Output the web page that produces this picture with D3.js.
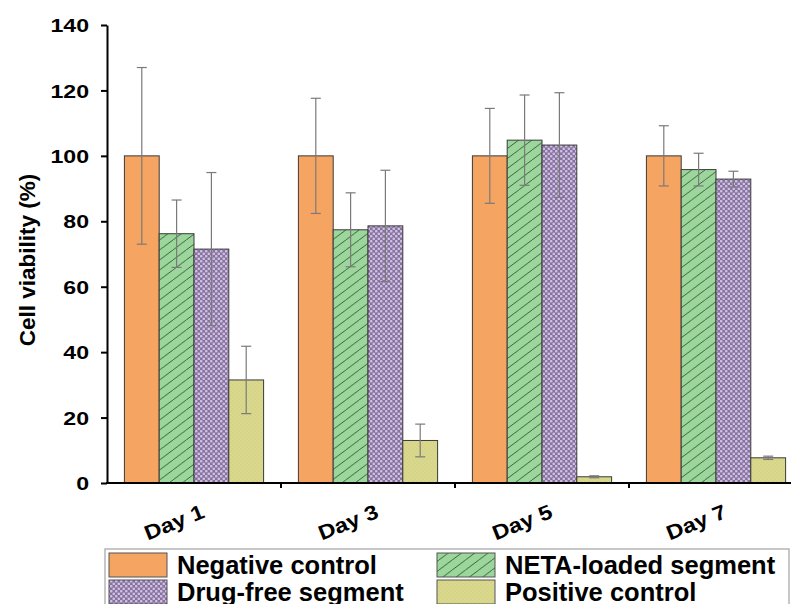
<!DOCTYPE html>
<html><head><meta charset="utf-8">
<script src="https://cdn.jsdelivr.net/npm/d3@7"></script>
<style>body{margin:0;background:#fff}text{font-family:"Liberation Sans",Arial,sans-serif;font-weight:bold}</style>
</head><body><svg id="c" width="791" height="604"></svg>
<script>
const days = ["Day 1","Day 3","Day 5","Day 7"];
const seriesNames = ["Negative control","NETA-loaded segment","Drug-free segment","Positive control"];
const negativeCtrl = [100,100,100,100];
const negativeErr = [27,17.6,14.5,9.2];
const netaLoaded = [76.2,77.4,104.8,95.8];
const netaErr = [10.3,11.3,13.8,5];
const drugFree = [71.5,78.6,103.3,92.9];
const drugFreeErr = [23.4,17,16,2.4];
const positiveCtrl = [31.5,13,1.9,7.7];
const positiveErr = [10.3,5,0.3,0.5];
const yTicks = [0,20,40,60,80,100,120,140];

const values = [negativeCtrl, netaLoaded, drugFree, positiveCtrl];
const errors = [negativeErr, netaErr, drugFreeErr, positiveErr];
const fills = ["#f5a462","url(#hatch)","url(#dots)","url(#ydots)"];

const svg = d3.select("#c");
const defs = svg.append("defs");
const ph = defs.append("pattern").attr("id","hatch").attr("patternUnits","userSpaceOnUse").attr("width",13.3).attr("height",10);
ph.append("rect").attr("width",13.3).attr("height",10).attr("fill","#9dd69c");
ph.append("line").attr("x1",-1.33).attr("y1",11).attr("x2",14.63).attr("y2",-1).attr("stroke","#2f5a30").attr("stroke-width",0.9);
const pd = defs.append("pattern").attr("id","dots").attr("patternUnits","userSpaceOnUse").attr("width",5).attr("height",5);
pd.append("rect").attr("width",5).attr("height",5).attr("fill","#86719f");
pd.append("circle").attr("cx",1.25).attr("cy",1.25).attr("r",1.35).attr("fill","#cdbfe0");
pd.append("circle").attr("cx",3.75).attr("cy",3.75).attr("r",1.35).attr("fill","#cdbfe0");
const py = defs.append("pattern").attr("id","ydots").attr("patternUnits","userSpaceOnUse").attr("width",4).attr("height",4);
py.append("rect").attr("width",4).attr("height",4).attr("fill","#d9d88c");
py.append("circle").attr("cx",1).attr("cy",1).attr("r",0.6).attr("fill","#cbc97c");
py.append("circle").attr("cx",3).attr("cy",3).attr("r",0.6).attr("fill","#cbc97c");

const x = d3.scaleBand().domain(days).range([107, 803]).padding(0);
const y = d3.scaleLinear().domain([0,140]).range([483, 25]);
const bw = x.bandwidth()/5;

values.forEach((vals, s) => {
  svg.append("g").selectAll("rect").data(days).join("rect")
    .attr("x", d => x(d) + bw*0.5 + s*bw)
    .attr("y", (d,i) => y(vals[i]))
    .attr("width", bw)
    .attr("height", (d,i) => y(0) - y(vals[i]))
    .attr("fill", fills[s])
    .attr("stroke", "#3a3a3a").attr("stroke-width", 1);
});
values.forEach((vals, s) => {
  const g = svg.append("g").attr("stroke","#7a7a7a").attr("stroke-width",1.2);
  days.forEach((d,i) => {
    const cx = x(d) + bw*0.5 + s*bw + bw/2;
    const hi = y(vals[i] + errors[s][i]), lo = y(vals[i] - errors[s][i]);
    g.append("line").attr("x1",cx).attr("x2",cx).attr("y1",hi).attr("y2",lo);
    g.append("line").attr("x1",cx-5).attr("x2",cx+5).attr("y1",hi).attr("y2",hi);
    g.append("line").attr("x1",cx-5).attr("x2",cx+5).attr("y1",lo).attr("y2",lo);
  });
});

const ya = svg.append("g").attr("transform","translate(107,0)")
  .call(d3.axisLeft(y).tickValues(yTicks).tickSize(6).tickSizeOuter(0));
ya.select(".domain").attr("stroke","#000").attr("stroke-width",2);
ya.selectAll(".tick line").attr("stroke","#000").attr("stroke-width",2);
ya.selectAll(".tick text").attr("x",0).attr("dy","0.36em")
  .attr("transform","translate(-18,0) scale(1.25,1)")
  .attr("font-size",18.5).attr("fill","#000");

svg.append("line").attr("x1",106).attr("x2",803).attr("y1",y(0)).attr("y2",y(0)).attr("stroke","#000").attr("stroke-width",2);
svg.append("g").selectAll("line").data(days.slice(1)).join("line")
  .attr("x1", d => x(d)).attr("x2", d => x(d))
  .attr("y1", y(0)).attr("y2", y(0)+5).attr("stroke","#000").attr("stroke-width",2);
svg.append("g").selectAll("text").data(days).join("text")
  .attr("transform", d => `translate(${x(d)+x.bandwidth()/2+12},517) rotate(-22) scale(1.15,1)`)
  .attr("text-anchor","end").attr("font-size",20.5).attr("fill","#000").text(d => d);

svg.append("text").attr("transform","translate(35,260) rotate(-90)")
  .attr("text-anchor","middle").attr("font-size",22.5).attr("fill","#000").text("Cell viability (%)");

svg.append("rect").attr("x",105).attr("y",549).attr("width",684).attr("height",70)
  .attr("fill","#fff").attr("stroke","#b5b5b5").attr("stroke-width",1.5);
const legPos = [[109,553],[437,553],[109,580],[437,580]];
[0,1,2,3].forEach((s,k) => {
  const [lx,ly] = legPos[k];
  svg.append("rect").attr("x",lx).attr("y",ly).attr("width",58).attr("height",24)
    .attr("fill",fills[s]).attr("stroke","#555").attr("stroke-width",1);
  svg.append("text").attr("x",lx+68).attr("y",ly+20.5).attr("font-size",25.5).attr("fill","#000").text(seriesNames[s]);
});
</script></body></html>
